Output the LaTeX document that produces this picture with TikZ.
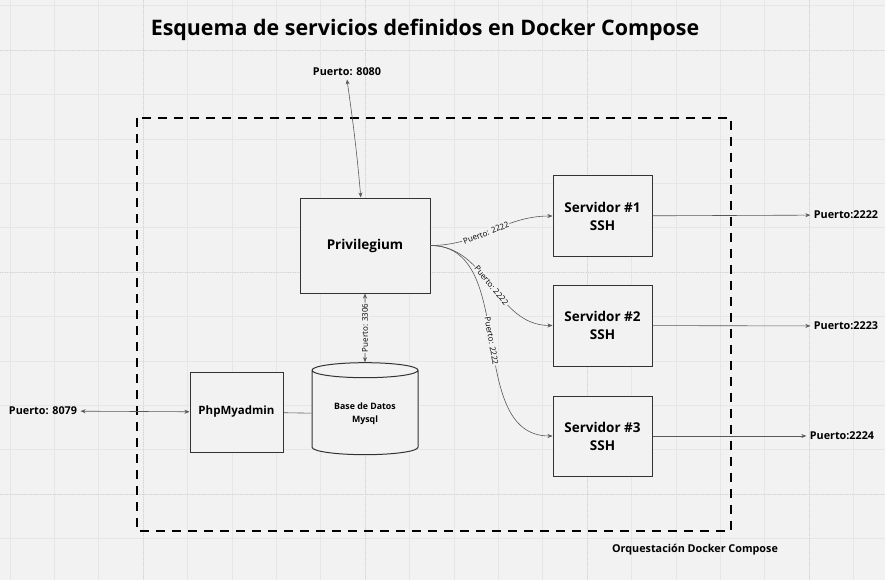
\documentclass[tikz,border=0pt]{standalone}
\usepackage{fontspec}
\setmainfont{Open Sans}
\usetikzlibrary{arrows.meta}
\usetikzlibrary{shapes.geometric}

\definecolor{paper}{HTML}{F2F2F2}
\definecolor{gridmin}{HTML}{E6E6E6}
\definecolor{gridmaj}{HTML}{D2D2DC}
\definecolor{wire}{HTML}{595959}

\begin{document}
\begin{tikzpicture}[x=1pt,y=-1pt,>={Stealth[length=5pt,width=4pt]}]
  \tikzset{box/.style = {shape=rectangle,draw=black!80,line width=1pt,fill=paper,align=center,font=\bfseries\fontsize{13.5}{18}\selectfont}}
  \tikzset{store/.style = {shape=cylinder,shape border rotate=90,aspect=0.22,draw=black!80,line width=1pt,fill=paper,align=center,font=\bfseries\fontsize{8.8}{13}\selectfont}}
  \tikzset{port/.style = {font=\bfseries\fontsize{10.8}{13}\selectfont}}
  \tikzset{link/.style = {draw=wire,line width=0.6pt}}
  \tikzset{tag/.style = {font=\fontsize{8}{9}\selectfont,sloped,fill=paper,inner sep=1pt}}

  % background with grid
  \useasboundingbox (0,0) rectangle (885,580);
  \fill[paper] (0,0) rectangle (885,580);
  \foreach \i in {0,...,19} \draw[gridmin,line width=0.4pt] (9.8+44.4*\i,0) -- ++(0,580);
  \foreach \i in {0,...,13} \draw[gridmin,line width=0.4pt] (0,5.6+44.4*\i) -- ++(885,0);
  \foreach \x in {143,365,587,809} \draw[gridmaj,dotted] (\x,0) -- ++(0,580);
  \foreach \y in {50,272,494} \draw[gridmaj,dotted] (0,\y) -- ++(885,0);

  \node (title) at (425,30) {\bfseries\fontsize{21.4}{24}\selectfont Esquema de servicios definidos en Docker Compose};

  % docker compose frame
  \draw[line width=2.6pt,dash pattern=on 9pt off 7pt] (137,118) rectangle (731,531);
  \node[port] (orq) at (695,550) {Orquestación Docker Compose};

  \node[box,minimum width=130pt,minimum height=95pt] (priv) at (365,245.5) {Privilegium};
  \node[box,minimum width=99pt,minimum height=80pt] (srv1) at (602.5,216) {Servidor \#1\\SSH};
  \node[box,minimum width=99pt,minimum height=81pt] (srv2) at (602.5,325.5) {Servidor \#2\\SSH};
  \node[box,minimum width=99pt,minimum height=80pt] (srv3) at (602.5,436) {Servidor \#3\\SSH};
  \node[box,minimum width=93pt,minimum height=80pt,font=\bfseries\fontsize{11.5}{14}\selectfont] (php) at (236.5,412) {PhpMyadmin};
  \node[store,minimum width=106pt,minimum height=92pt] (db) at (365,414) {Base de Datos\\Mysql};

  \node[port] (p8080) at (347,72) {Puerto: 8080};
  \node[port] (p8079) at (43,411) {Puerto: 8079};
  \node[port] (p2222) at (846,215) {Puerto:2222};
  \node[port] (p2223) at (846,326) {Puerto:2223};
  \node[port] (p2224) at (842,436) {Puerto:2224};

  \draw[link,<->] (p8080.south) to[out=-82,in=95] (priv);
  \draw[link,<->] (p8079) -- (php);
  \draw[link] (php) -- (db);
  \draw[link,<->] (db) -- node[tag]{Puerto: 3306} (priv);

  \foreach \to/\p in {srv1/0.45, srv2/0.5, srv3/0.5}
    \draw[link,->] (priv.east) to[out=0,in=180] node[tag,pos=\p]{Puerto: 2222} (\to);
  \foreach \from/\to in {srv1/p2222, srv2/p2223, srv3/p2224}
    \draw[link,->] (\from) -- (\to);
\end{tikzpicture}
\end{document}
